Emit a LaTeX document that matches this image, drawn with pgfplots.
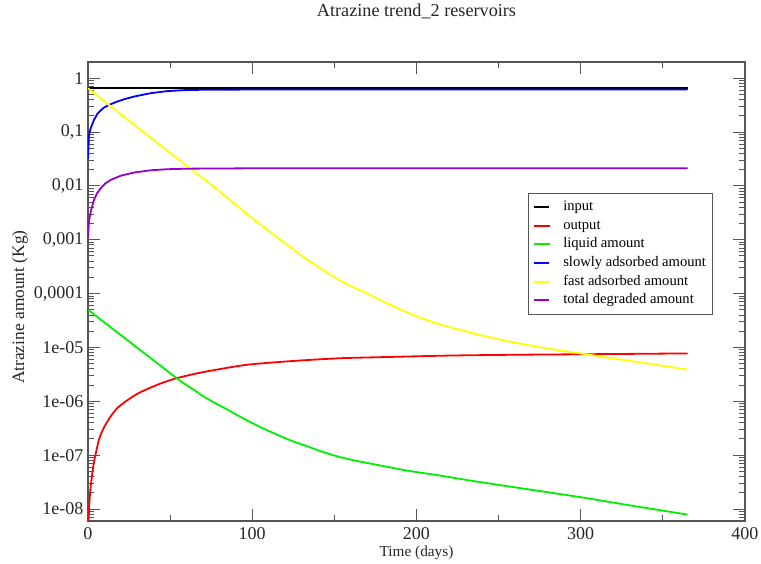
\documentclass[border=0pt]{standalone}
\usepackage{fontspec}
\setmainfont{Liberation Serif}
\usepackage{pgfplots}
\pgfplotsset{compat=1.18}
\definecolor{gviolet}{RGB}{148,0,211}
\definecolor{ggreen}{RGB}{0,240,0}
\definecolor{gred}{RGB}{255,0,0}
\definecolor{gblue}{RGB}{0,0,255}
\definecolor{gyellow}{RGB}{255,255,0}
\definecolor{gblack}{RGB}{0,0,0}
\definecolor{axgray}{RGB}{85,85,85}
\begin{document}
\begin{tikzpicture}[x=1pt,y=1pt]
\useasboundingbox (0,0) rectangle (761,564);
\begin{axis}[
  scale only axis, width=657pt, height=459pt,
  anchor=south west, at={(88pt,43pt)},
  xmin=0, xmax=400, ymode=log, ymin=6e-9, ymax=2,
  axis line style={axgray, line width=1.1pt},
  every tick/.style={axgray, line width=1pt},
  tick align=inside,
  major tick length=12pt, minor tick length=6pt,
  xtick={0,100,200,300,400}, minor xtick={50,150,250,350},
  ytick={1e-8,1e-7,1e-6,1e-5,1e-4,1e-3,1e-2,1e-1,1},
  yticklabels={1e-08,1e-07,1e-06,1e-05,{0,0001},{0,001},{0,01},{0,1},1},
  minor ytick={6e-9,7e-9,8e-9,9e-9,
    2e-8,3e-8,4e-8,5e-8,6e-8,7e-8,8e-8,9e-8,
    2e-7,3e-7,4e-7,5e-7,6e-7,7e-7,8e-7,9e-7,
    2e-6,3e-6,4e-6,5e-6,6e-6,7e-6,8e-6,9e-6,
    2e-5,3e-5,4e-5,5e-5,6e-5,7e-5,8e-5,9e-5,
    2e-4,3e-4,4e-4,5e-4,6e-4,7e-4,8e-4,9e-4,
    2e-3,3e-3,4e-3,5e-3,6e-3,7e-3,8e-3,9e-3,
    2e-2,3e-2,4e-2,5e-2,6e-2,7e-2,8e-2,9e-2,
    0.2,0.3,0.4,0.5,0.6,0.7,0.8,0.9,2},
  /pgf/number format/assume math mode=true,
  ticklabel style={font=\fontsize{18}{20}\selectfont, text=black!85},
  xticklabel style={yshift=-3pt},
  yticklabel style={xshift=-1pt},
  title={Atrazine trend\_2 reservoirs},
  title style={font=\fontsize{18.2}{20}\selectfont, text=black!85, at={(axis description cs:0.5,1.098)}, anchor=center},
  xlabel={Time (days)},
  xlabel style={font=\fontsize{15.3}{17}\selectfont, text=black!85, at={(axis description cs:0.5,-0.0697)}, anchor=center},
  ylabel={Atrazine amount (Kg)},
  ylabel style={font=\fontsize{17.4}{19}\selectfont, text=black!85, at={(axis description cs:-0.1035,0.466)}, anchor=center},
  legend cell align=left,
  legend style={at={(axis description cs:0.6697,0.7146)}, anchor=north west,
    draw=axgray, line width=1pt, inner xsep=5pt, inner ysep=6pt,
    font=\fontsize{14.6}{17}\selectfont,
    nodes={text height=10pt, text depth=3pt, inner sep=1.3pt}, row sep=3.0pt},
  /tikz/every odd column/.append style={column sep=11.5pt},
  legend image code/.code={\draw[mark repeat=2,mark phase=2,#1, line width=2pt] plot coordinates {(0pt,0pt) (7.5pt,0pt) (15pt,0pt)};},
  every axis plot/.append style={line width=1.8pt},
]
\addplot[color=gblack] coordinates {(0,0.65) (365,0.65)};
\addlegendentry{input}
\addplot[color=gred, smooth, tension=0.4] coordinates {
(0,4e-9) (0.8,1.2e-8) (1.5,2.4e-8) (3,5.6e-8) (4.5,1.0e-7) (7,2.09e-7) (10,3.39e-7)
(14,5.37e-7) (18,7.59e-7) (24,1.05e-6) (30,1.38e-6) (37,1.74e-6) (45,2.19e-6)
(54,2.69e-6) (65,3.24e-6) (75,3.72e-6) (97,4.79e-6) (125,5.62e-6) (153,6.31e-6)
(178,6.61e-6) (220,7.08e-6) (260,7.33e-6) (304,7.50e-6) (365,7.76e-6)};
\addlegendentry{output}
\addplot[color=ggreen, smooth, tension=0.5] coordinates {
(0,5.0e-5) (20,1.70e-5) (40,5.75e-6) (54,2.69e-6) (60,2.0e-6) (65,1.6e-6)
(70,1.25e-6) (76,9.8e-7) (85,7.0e-7) (92.5,5.2e-7) (103,3.55e-7) (113,2.57e-7)
(123,1.9e-7) (133,1.48e-7) (143,1.15e-7) (153,9.3e-8) (163,7.9e-8) (174,6.8e-8)
(194,5.2e-8) (214,4.2e-8) (235,3.3e-8) (263,2.45e-8) (300,1.66e-8) (330,1.17e-8)
(365,7.9e-9)};
\addlegendentry{liquid amount}
\addplot[color=gblue] coordinates {
(0,0.032) (0.6,0.089) (1.6,0.117) (3.65,0.168) (5.7,0.218) (7.7,0.251) (9.7,0.285)
(12.8,0.319) (17.8,0.369) (23,0.415) (28,0.456) (38,0.526) (48,0.575) (58,0.600)
(70,0.610) (95,0.615) (150,0.617) (365,0.617)};
\addlegendentry{slowly adsorbed amount}
\addplot[color=gyellow, smooth, tension=0.4] coordinates {
(0,0.65) (20,0.214) (40,0.0708) (62.5,0.0209) (80,0.00794) (98,0.00282)
(115,0.00112) (122,7.76e-4) (129,5.37e-4) (137,3.63e-4) (145,2.51e-4) (152,1.86e-4)
(160,1.38e-4) (170,1.0e-4) (180,7.08e-5) (190,5.13e-5) (200,3.80e-5) (210,2.95e-5)
(220,2.40e-5) (240,1.66e-5) (260,1.23e-5) (280,9.55e-6) (304,7.41e-6)
(330,5.62e-6) (365,3.89e-6)};
\addlegendentry{fast adsorbed amount}
\addplot[color=gviolet] coordinates {
(0,1.1e-3) (0.6,2.2e-3) (1.6,3.3e-3) (3.65,5.5e-3) (5.5,7.3e-3) (7.7,9.0e-3)
(10.5,0.0111) (13.8,0.0129) (20,0.0155) (28,0.0177) (38,0.0195) (48,0.0204)
(60,0.0209) (95,0.0212) (365,0.0213)};
\addlegendentry{total degraded amount}
\end{axis}
\end{tikzpicture}
\end{document}
